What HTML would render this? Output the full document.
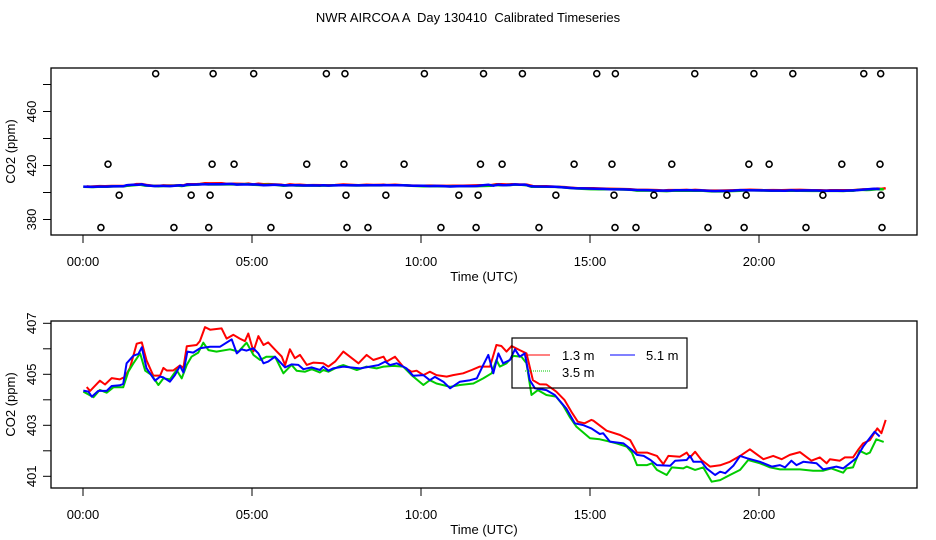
<!DOCTYPE html>
<html><head><meta charset="utf-8"><style>
body{margin:0;background:#fff;}
svg{display:block;font-family:"Liberation Sans",Arial,sans-serif;}
</style></head><body>
<svg id="c" width="936" height="540">
<text x="468" y="22" text-anchor="middle" font-size="13" style="white-space:pre" xml:space="preserve">NWR AIRCOA A  Day 130410  Calibrated Timeseries</text>
</svg>
<script>
// ---- data ----
const xTicks=[0,5,10,15,20];
const xTickLabels=["00:00","05:00","10:00","15:00","20:00"];
const topYTicks=[380,400,420,440,460,480];
const topYLabels=["380","","420","","460",""];
const botYTicks=[401,402,403,404,405,406,407];
const botYLabels=["401","","403","","405","","407"];
const redT=[0.11,0.21,0.5,0.65,0.85,1.09,1.24,1.39,1.59,1.74,1.88,2.08,2.28,2.38,2.48,2.67,2.87,2.97,3.07,3.36,3.46,3.61,3.76,4.1,4.25,4.45,4.64,4.79,4.89,5.04,5.19,5.34,5.48,5.73,5.88,5.98,6.12,6.27,6.42,6.62,6.82,7.11,7.26,7.46,7.7,8.15,8.39,8.59,8.89,8.98,9.23,9.47,9.72,9.87,10.07,10.26,10.46,10.76,10.95,11.25,11.5,11.74,12.04,12.23,12.38,12.53,12.68,12.92,13.12,13.31,13.51,13.71,14.0,14.25,14.45,14.64,14.84,15.04,15.1,15.49,15.89,16.19,16.39,16.69,16.98,17.17,17.32,17.66,17.86,17.96,18.11,18.3,18.55,18.85,19.14,19.44,19.73,20.13,20.42,20.67,20.91,21.21,21.55,21.8,22.0,22.1,22.39,22.54,22.78,22.93,23.08,23.28,23.5,23.62,23.75];
const redV=[404.5,404.35,404.75,404.6,404.85,404.8,404.9,405.25,406.2,406.25,405.55,404.95,404.95,405.25,405.15,405.15,405.35,405.25,406.1,406.15,406.3,406.85,406.75,406.8,406.4,406.55,406.4,406.3,406.6,405.9,406.5,406.15,406.25,405.9,405.7,405.36,405.98,405.63,405.76,405.37,405.46,405.43,405.3,405.5,405.89,405.43,405.76,405.56,405.69,405.5,405.69,405.3,405.1,405.14,404.97,405.1,404.97,404.91,404.97,405.04,405.17,405.3,405.3,406.15,406.11,405.89,406.11,405.95,405.82,404.77,404.61,404.6,404.32,403.99,403.53,403.14,403.08,403.21,403.18,402.79,402.62,402.42,401.93,401.93,401.8,401.48,401.8,401.77,401.93,401.74,401.96,401.64,401.38,401.43,401.57,401.8,402.06,401.67,401.8,401.67,401.84,401.95,401.61,401.74,401.51,401.67,401.61,401.74,401.74,402.03,402.29,402.42,402.88,402.69,403.21];
const blueT=[0.01,0.16,0.26,0.45,0.7,0.85,1.09,1.19,1.29,1.49,1.64,1.74,1.88,2.13,2.28,2.38,2.57,2.72,2.87,2.97,3.09,3.26,3.46,3.76,4.05,4.4,4.55,4.69,4.84,5.04,5.19,5.34,5.48,5.68,5.98,6.17,6.37,6.52,6.77,7.01,7.11,7.26,7.4,7.7,8.2,8.49,8.74,8.94,9.08,9.28,9.57,9.77,10.07,10.26,10.41,10.66,10.86,11.15,11.45,11.65,11.84,11.99,12.14,12.29,12.43,12.63,12.78,12.92,13.07,13.22,13.37,13.71,13.96,14.3,14.55,14.79,15.04,15.29,15.39,15.59,15.99,16.24,16.39,16.59,16.79,16.98,17.37,17.52,17.86,17.96,18.06,18.3,18.45,18.7,18.85,19.0,19.24,19.44,19.64,20.03,20.38,20.62,20.77,20.96,21.11,21.31,21.7,21.9,22.29,22.49,22.88,23.08,23.42,23.57];
const blueV=[404.36,404.32,404.12,404.35,404.35,404.54,404.57,404.62,405.43,405.73,405.8,406.06,405.24,404.75,404.91,404.88,404.71,404.97,405.33,405.07,405.89,405.85,406.02,406.08,406.08,406.37,405.82,405.98,405.93,406.02,405.82,405.43,405.5,405.69,405.27,405.39,405.37,405.2,405.27,405.17,405.3,405.14,405.23,405.3,405.23,405.3,405.36,405.5,405.36,405.43,405.23,404.94,404.97,404.77,404.9,404.71,404.45,404.71,404.77,404.84,405.36,405.76,405.04,405.82,405.43,405.56,405.98,405.69,405.82,404.77,404.45,404.38,404.19,403.66,403.08,403.01,402.88,402.66,402.69,402.36,402.29,402.03,401.84,401.8,401.64,401.44,401.41,401.61,401.64,401.8,401.57,401.57,401.31,401.05,401.18,401.12,401.41,401.8,401.71,401.57,401.38,401.44,401.35,401.61,401.44,401.57,401.51,401.27,401.38,401.31,401.71,402.16,402.75,402.56];
const greenT=[0.01,0.31,0.5,0.7,0.9,1.19,1.34,1.49,1.69,1.84,2.03,2.23,2.38,2.57,2.77,2.92,3.07,3.21,3.41,3.56,3.71,3.95,4.35,4.6,4.84,5.04,5.24,5.43,5.68,5.93,6.17,6.32,6.57,6.77,7.01,7.11,7.26,7.56,7.7,8.1,8.39,8.69,8.89,9.18,9.47,9.72,10.07,10.26,10.46,10.86,11.15,11.55,11.84,12.09,12.23,12.33,12.53,12.73,12.97,13.12,13.27,13.46,13.71,14.0,14.2,14.4,14.6,15.0,15.29,15.59,15.79,16.09,16.24,16.39,16.69,16.83,16.98,17.27,17.42,17.76,17.86,18.11,18.35,18.6,18.85,19.14,19.44,19.68,20.03,20.33,20.62,21.21,21.6,21.9,22.14,22.49,22.59,22.78,22.98,23.18,23.28,23.47,23.69];
const greenV=[404.32,404.1,404.39,404.28,404.49,404.49,405.1,405.43,405.82,405.14,404.97,404.58,404.84,404.8,405.17,404.84,405.37,405.69,405.85,406.24,405.95,405.89,405.98,405.89,406.24,405.76,405.56,405.69,405.69,405.04,405.37,405.14,405.1,405.2,405.07,405.17,405.1,405.3,405.36,405.17,405.3,405.23,405.3,405.33,405.3,404.97,404.58,404.77,404.64,404.51,404.58,404.64,404.84,405.04,405.56,405.3,405.43,405.72,405.69,405.43,404.19,404.38,404.19,404.12,403.79,403.33,402.94,402.49,402.45,402.36,402.29,402.16,401.93,401.44,401.44,401.51,401.25,401.05,401.35,401.31,401.38,401.25,401.35,400.79,400.85,401.05,401.25,401.64,401.51,401.35,401.27,401.27,401.22,401.22,401.31,401.14,401.31,401.35,402.0,401.87,401.93,402.45,402.35];
const flaskT=[2.15,3.85,5.05,7.2,7.75,10.1,11.85,13.0,15.2,15.75,18.1,19.85,21.0,23.1,23.6,
0.74,3.82,4.47,6.62,7.72,9.5,11.76,12.4,14.53,15.65,17.42,19.7,20.3,22.45,23.58,
1.07,3.2,3.76,6.09,7.78,8.96,11.12,11.69,13.99,15.71,16.89,19.05,19.62,21.89,23.61,
0.53,2.69,3.72,5.56,7.81,8.43,10.59,11.63,13.49,15.74,16.36,18.49,19.56,21.39,23.64];
const flaskV=[488,488,488,488,488,488,488,488,488,488,488,488,488,488,488,
421,421,421,421,421,421,421,421,421,421,421,421,421,421,421,
398,398,398,398,398,398,398,398,398,398,398,398,398,398,398,
374,374,374,374,374,374,374,374,374,374,374,374,374,374,374];
// ---- drawing ----
const svg=document.getElementById('c');
const NS='http://www.w3.org/2000/svg';
function mk(tag,attrs,parent){const e=document.createElementNS(NS,tag);for(const k in attrs)e.setAttribute(k,attrs[k]);(parent||svg).appendChild(e);return e;}
const xS=h=>83+33.8*h;
const yTop=v=>192.5-(v-400)*1.35;
const yBot=v=>374.3-(v-405)*25.5;
function panel(name,top,bottom,yS,yT,yL,xlabY){
  const g=mk('g',{});
  
  
  const box=mk('rect',{x:51,y:top,width:866,height:bottom-top,fill:'none',stroke:'#000','stroke-width':1.3},g);
  
  
  xTicks.forEach((t,i)=>{
    const x=xS(t);
    mk('line',{x1:x,x2:x,y1:bottom,y2:bottom+8,stroke:'#000'},g);
    const tx=mk('text',{x:x,y:bottom+31,'text-anchor':'middle','font-size':13},g);
    tx.textContent=xTickLabels[i];
    
    
  });
  yT.forEach((v,i)=>{
    const y=yS(v);
    mk('line',{x1:43,x2:51,y1:y,y2:y,stroke:'#000'},g);
    if(yL[i]){
      const tx=mk('text',{x:36,y:y,'text-anchor':'middle','font-size':13,transform:`rotate(-90 36 ${y})`},g);
      tx.textContent=yL[i];
      
      
    }
  });
  const xl=mk('text',{x:484,y:xlabY,'text-anchor':'middle','font-size':13},g);
  xl.textContent='Time (UTC)';
  
  
  const cy=(top+bottom)/2;
  const yl=mk('text',{x:15,y:cy,'text-anchor':'middle','font-size':13,transform:`rotate(-90 15 ${cy})`},g);
  yl.textContent='CO2 (ppm)';
  
  
  return g;
}
function series(g,T,V,yS,color,name,w){
  const d=T.map((t,i)=>(i?'L':'M')+xS(t).toFixed(1)+' '+yS(V[i]).toFixed(1)).join(' ');
  const p=mk('path',{d:d,fill:'none',stroke:color,'stroke-width':w,'stroke-linejoin':'round'},g);
  
  
}
const gt=panel('top-panel',68,235,yTop,topYTicks,topYLabels,281);
series(gt,redT,redV,yTop,'#f00','line-1-3m-top',2.5);
series(gt,greenT,greenV,yTop,'#0c0','line-3-5m-top',2.5);
series(gt,blueT,blueV,yTop,'#00f','line-5-1m-top',2.5);
flaskT.forEach((t,i)=>{
  const c=mk('circle',{cx:xS(t),cy:yTop(flaskV[i]),r:3,fill:'none',stroke:'#000','stroke-width':1.6},gt);
  
  
});
const gb=panel('bottom-panel',321,488,yBot,botYTicks,botYLabels,534);
series(gb,redT,redV,yBot,'#f00','line-1-3m',2);
series(gb,greenT,greenV,yBot,'#0c0','line-3-5m',2);
series(gb,blueT,blueV,yBot,'#00f','line-5-1m',2);
// legend
const lg=mk('g',{});


mk('rect',{x:512,y:338,width:175,height:50,fill:'none',stroke:'#000','stroke-width':1.2},lg);
mk('line',{x1:525,x2:550,y1:355,y2:355,stroke:'#f00'},lg);
mk('line',{x1:610,x2:635,y1:355,y2:355,stroke:'#00f'},lg);
mk('line',{x1:525,x2:550,y1:371,y2:371,stroke:'#0c0','stroke-dasharray':'1 1'},lg);
[['1.3 m',562,360],['5.1 m',646,360],['3.5 m',562,377]].forEach(a=>{
  const t=mk('text',{x:a[1],y:a[2],'font-size':13},lg);
  t.textContent=a[0];
  
  
});
</script>
</body></html>
